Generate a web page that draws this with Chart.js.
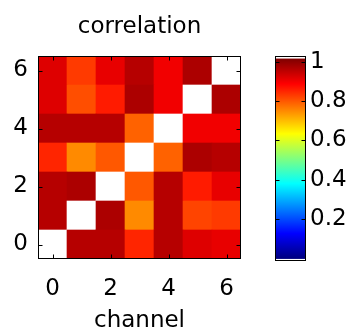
<!DOCTYPE html>
<html>
<head>
<meta charset="utf-8">
<script src="https://cdn.jsdelivr.net/npm/chart.js@4/dist/chart.umd.min.js"></script>
<style>
    html, body { margin: 0; padding: 0; background: #fff; }
    #wrap { position: relative; width: 352px; height: 332px; }
    #heat { position: absolute; left: 0; top: 0; }
    #cbar { position: absolute; left: 241px; top: 0; }
</style>
</head>
<body>
<div id="wrap">
    <canvas id="heat" width="352" height="332"></canvas>
    <canvas id="cbar" width="111" height="332"></canvas>
</div>
<script>
// Kanaele (x und y) und Achsenbeschriftung
const channels = [0, 1, 2, 3, 4, 5, 6];
const axisTicks = [0, 2, 4, 6];
const colorbarTicks = [0.2, 0.4, 0.6, 0.8, 1];
const colorbarRange = [-0.013, 1.029];

// Korrelation je Zeile (y = Kanal), Spalten = Kanal auf der x-Achse
const row0 = [1.00, 0.96, 0.96, 0.85, 0.96, 0.92, 0.91];
const row1 = [0.96, 1.00, 0.97, 0.75, 0.96, 0.82, 0.83];
const row2 = [0.96, 0.97, 1.00, 0.80, 0.96, 0.86, 0.91];
const row3 = [0.85, 0.75, 0.80, 1.00, 0.79, 0.97, 0.96];
const row4 = [0.96, 0.96, 0.96, 0.79, 1.00, 0.90, 0.90];
const row5 = [0.92, 0.81, 0.86, 0.97, 0.90, 1.00, 0.97];
const row6 = [0.92, 0.83, 0.91, 0.96, 0.90, 0.97, 1.00];
const rows = [row0, row1, row2, row3, row4, row5, row6];

// Farbskala (jet), oberes Ende weiss wie in der Vorlage
const JET_MIN = 0;
const JET_MAX = 1.014;

function jetRgb(t) {
    const c = x => Math.round(255 * Math.max(0, Math.min(1, x)));
    return `rgb(${c(1.5 - Math.abs(4 * t - 3))},${c(1.5 - Math.abs(4 * t - 2))},${c(1.5 - Math.abs(4 * t - 1))})`;
}

function cellColor(v) {
    if (v >= 1) return '#ffffff';
    return jetRgb((v - JET_MIN) / (JET_MAX - JET_MIN));
}

const FONT = { family: 'DejaVu Sans', size: 23, lineHeight: 1.2, weight: 'normal' };
Chart.defaults.font.family = 'DejaVu Sans';
Chart.defaults.color = '#000';

// Rahmen und nach innen zeigende Ticks (MATLAB-Stil)
const boxPlugin = {
    id: 'box',
    afterDatasetsDraw(chart) {
        const { ctx, chartArea: a, scales } = chart;
        const L = Math.round(a.left) + 0.5, R = Math.round(a.right) - 0.5;
        const T = Math.round(a.top) + 0.5, B = Math.round(a.bottom) - 0.5;
        ctx.save();
        ctx.strokeStyle = '#000';
        ctx.lineWidth = 1;
        ctx.beginPath();
        const x = scales.x;
        if (x && x.options.display) {
            x.ticks.forEach(t => {
                const p = Math.round(x.getPixelForValue(t.value)) + 0.5;
                ctx.moveTo(p, B); ctx.lineTo(p, B - 4);
                ctx.moveTo(p, T); ctx.lineTo(p, T + 4);
            });
        }
        const y = scales.y;
        y.ticks.forEach(t => {
            const p = Math.round(y.getPixelForValue(t.value)) + 0.5;
            ctx.moveTo(L, p); ctx.lineTo(L + 4, p);
            ctx.moveTo(R, p); ctx.lineTo(R - 4, p);
        });
        ctx.stroke();
        ctx.strokeRect(L, T, R - L, B - T);
        ctx.restore();
    }
};

// Heatmap: je Zeile ein Datensatz mit schwebenden Balken
const datasets = rows.map((vals, j) => ({
    data: channels.map(i => ({ x: i, y: [j - 0.5, j + 0.5] })),
    backgroundColor: vals.map(cellColor),
    borderWidth: 0,
    barPercentage: 1,
    categoryPercentage: 1,
    grouped: false
}));

new Chart(document.getElementById('heat'), {
    type: 'bar',
    data: { datasets },
    plugins: [boxPlugin],
    options: {
        responsive: false,
        animation: false,
        layout: { padding: { left: 0, right: 111, top: 0, bottom: 0 } },
        plugins: {
            legend: { display: false },
            tooltip: { enabled: false },
            title: {
                display: true,
                fullSize: false,
                text: 'correlation',
                font: FONT,
                color: '#000',
                padding: { top: 13, bottom: 15.4 }
            }
        },
        scales: {
            x: {
                type: 'linear',
                min: -0.5,
                max: 6.5,
                offset: false,
                afterBuildTicks: s => { s.ticks = axisTicks.map(v => ({ value: v })); },
                afterFit: s => { s.height = 73; },
                grid: { display: false, drawTicks: false },
                border: { display: false },
                ticks: { font: FONT, padding: 16, maxRotation: 0 },
                title: {
                    display: true,
                    text: 'channel',
                    font: { family: 'DejaVu Sans', size: 23, lineHeight: 1 },
                    padding: { top: 0, bottom: -1 }
                }
            },
            y: {
                type: 'linear',
                min: -0.5,
                max: 6.5,
                afterBuildTicks: s => { s.ticks = axisTicks.map(v => ({ value: v })); },
                afterFit: s => { s.width = 38; },
                grid: { display: false, drawTicks: false },
                border: { display: false },
                ticks: { font: FONT, padding: 10 }
            }
        }
    }
});

// Farbleiste
const cbarChart = new Chart(document.getElementById('cbar'), {
    type: 'bar',
    data: {
        labels: [''],
        datasets: [{
            data: [colorbarRange],
            borderWidth: 0,
            barPercentage: 1,
            categoryPercentage: 1,
            backgroundColor: (c) => {
                const chart = c.chart;
                if (!chart.chartArea) return '#fff';
                const y = chart.scales.y;
                const y0 = y.getPixelForValue(colorbarRange[0]);
                const y1 = y.getPixelForValue(colorbarRange[1]);
                const span = colorbarRange[1] - colorbarRange[0];
                const f = v => Math.max(0, Math.min(1, (v - colorbarRange[0]) / span));
                const g = chart.ctx.createLinearGradient(0, y0, 0, y1);
                g.addColorStop(0, '#fff');
                g.addColorStop(f(JET_MIN - 0.004), '#fff');
                [0, 0.125, 0.375, 0.625, 0.875, 1].forEach(t => {
                    g.addColorStop(f(JET_MIN + t * (JET_MAX - JET_MIN)), jetRgb(t));
                });
                g.addColorStop(f(JET_MAX + 0.004), '#fff');
                g.addColorStop(1, '#fff');
                return g;
            }
        }]
    },
    plugins: [boxPlugin],
    options: {
        responsive: false,
        animation: false,
        layout: { padding: { left: 34, right: 0, top: 56, bottom: 71 } },
        plugins: { legend: { display: false }, tooltip: { enabled: false } },
        scales: {
            x: { display: false, offset: true },
            y: {
                position: 'right',
                min: colorbarRange[0],
                max: colorbarRange[1],
                afterBuildTicks: s => { s.ticks = colorbarTicks.map(v => ({ value: v })); },
                afterFit: s => { s.width = 46; },
                grid: { display: false, drawTicks: false },
                border: { display: false },
                ticks: { font: FONT, padding: 4, callback: v => String(v) }
            }
        }
    }
});
</script>
</body>
</html>
